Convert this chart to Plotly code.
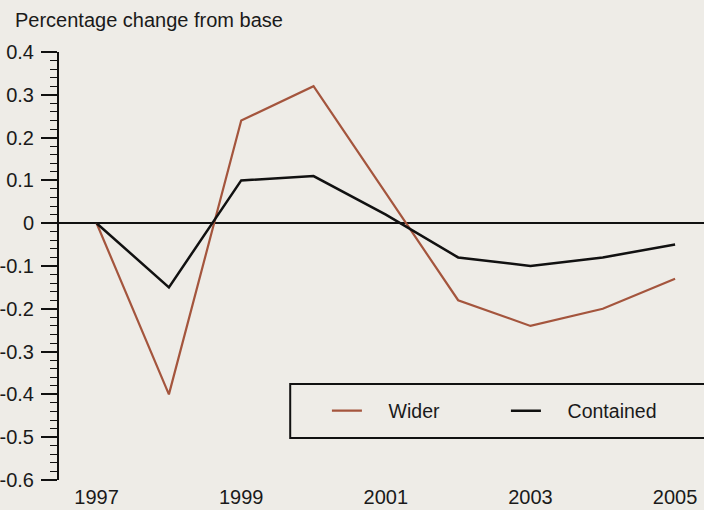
import plotly.graph_objects as go

years = [1997, 1998, 1999, 2000, 2001, 2002, 2003, 2004, 2005]
wider = [0.0, -0.40, 0.24, 0.32, 0.07, -0.18, -0.24, -0.20, -0.13]
contained = [0.0, -0.15, 0.10, 0.11, 0.02, -0.08, -0.10, -0.08, -0.05]
x_ticks = [1997, 1999, 2001, 2003, 2005]
y_ticks = [0.4, 0.3, 0.2, 0.1, 0, -0.1, -0.2, -0.3, -0.4, -0.5, -0.6]
y_labels = ["0.4", "0.3", "0.2", "0.1", "0", "-0.1", "-0.2", "-0.3", "-0.4", "-0.5", "-0.6"]

W, H = 704, 510
L, R, T, B = 54, 0, 52, 30
pw, ph = W - L - R, H - T - B

def px_x(p):
    return (p - L) / pw

def px_y(p):
    return (H - B - p) / ph

BG = "#eeece7"
BROWN = "#a4553d"
FONT = "Liberation Sans, Arial, sans-serif"
PAD = "\u00a0" * 4

fig = go.Figure()
fig.add_trace(go.Scatter(x=years, y=wider, mode="lines", name=PAD + "Wider",
                         line=dict(color=BROWN, width=2.2)))
fig.add_trace(go.Scatter(x=years, y=contained, mode="lines", name=PAD + "Contained",
                         line=dict(color="#111111", width=2.5)))

fig.add_shape(type="rect", xref="paper", yref="paper",
              x0=px_x(287), x1=px_x(712), y0=px_y(438), y1=px_y(384),
              line=dict(color="#111111", width=2), fillcolor=BG, layer="below")

fig.update_layout(
    width=W, height=H,
    margin=dict(l=L, r=R, t=T, b=B, pad=0),
    paper_bgcolor=BG, plot_bgcolor=BG,
    title=dict(text="Percentage change from base", x=15 / W, xanchor="left",
               xref="container", y=1 - 20 / H, yanchor="middle", yref="container",
               font=dict(family=FONT, size=20, color="#1a1a1a")),
    showlegend=True,
    legend=dict(orientation="h", x=px_x(324), xanchor="left", y=px_y(411), yanchor="middle",
                bgcolor="rgba(0,0,0,0)", borderwidth=0, itemwidth=30,
                entrywidth=134, entrywidthmode="pixels",
                font=dict(family=FONT, size=19.5, color="#1a1a1a")),
    xaxis=dict(range=[1996.48, 2005.40], showgrid=False, zeroline=False, showline=False,
               ticks="", tickvals=x_ticks, ticktext=[str(v) for v in x_ticks],
               tickfont=dict(family=FONT, size=20, color="#1a1a1a"),
               ticklabelstandoff=3),
    yaxis=dict(range=[-0.6, 0.4], showgrid=False, zeroline=True, zerolinecolor="#111111",
               zerolinewidth=2, showline=True, linecolor="#111111", linewidth=2,
               ticks="outside", ticklen=16, tickwidth=1.5, tickcolor="#111111",
               tickvals=y_ticks, ticktext=y_labels,
               tickfont=dict(family=FONT, size=20, color="#1a1a1a"),
               ticklabelstandoff=3,
               minor=dict(dtick=0.02, tick0=0, ticks="outside", ticklen=7,
                          tickwidth=1.2, tickcolor="#111111")),
)

fig.write_html("out.html", config={"displayModeBar": False},
               post_script="document.body.style.margin='0';document.body.style.overflow='hidden';document.body.style.background='" + BG + "';")
